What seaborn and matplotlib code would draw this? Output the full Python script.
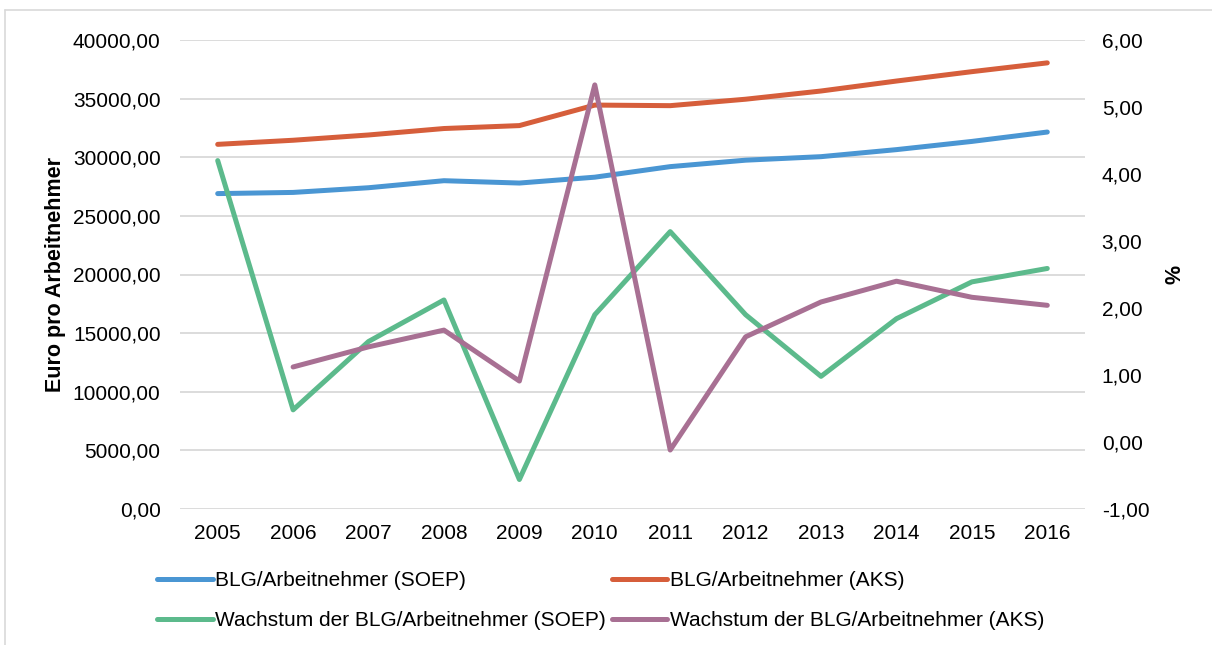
import matplotlib
matplotlib.use("Agg")
import matplotlib.pyplot as plt
from matplotlib.ticker import FuncFormatter, FixedLocator
from matplotlib.lines import Line2D
import seaborn as sns
import pandas as pd

years = [2005, 2006, 2007, 2008, 2009, 2010, 2011, 2012, 2013, 2014, 2015, 2016]
blg_soep = [26900, 27000, 27400, 28000, 27800, 28300, 29200, 29750, 30050, 30650, 31350, 32150]
blg_aks = [31100, 31450, 31900, 32450, 32700, 34450, 34400, 34950, 35650, 36500, 37300, 38050]
growth_soep = [4.20, 0.48, 1.50, 2.12, -0.56, 1.90, 3.14, 1.90, 0.98, 1.84, 2.39, 2.59]
growth_aks = [None, 1.12, 1.42, 1.67, 0.91, 5.33, -0.12, 1.57, 2.09, 2.40, 2.16, 2.04]

names = ["BLG/Arbeitnehmer (SOEP)", "BLG/Arbeitnehmer (AKS)",
         "Wachstum der BLG/Arbeitnehmer (SOEP)", "Wachstum der BLG/Arbeitnehmer (AKS)"]
colors = ["#4A96D3", "#D65E3B", "#5CBA8C", "#A87093"]

sns.set_theme(style="white")
plt.rcParams['font.family'] = ['Liberation Sans', 'DejaVu Sans']
plt.rcParams['text.color'] = '#000000'

FS = 15

fig = plt.figure(figsize=(12.12, 6.45), dpi=100)
ax = fig.add_axes([180/1212, 1 - 509/645, 905/1212, 469/645])
ax2 = ax.twinx()

df_left = pd.DataFrame({
    "Jahr": years * 2,
    "Wert": blg_soep + blg_aks,
    "Reihe": [names[0]] * 12 + [names[1]] * 12,
})
df_right = pd.DataFrame({
    "Jahr": years * 2,
    "Wert": growth_soep + growth_aks,
    "Reihe": [names[2]] * 12 + [names[3]] * 12,
}).dropna()

sns.lineplot(data=df_left, x="Jahr", y="Wert", hue="Reihe", palette=colors[:2],
             linewidth=3.6, ax=ax, legend=False, solid_capstyle="round",
             solid_joinstyle="round")
sns.lineplot(data=df_right, x="Jahr", y="Wert", hue="Reihe", palette=colors[2:],
             linewidth=3.6, ax=ax2, legend=False, solid_capstyle="round",
             solid_joinstyle="round")

ax.set_xlim(2004.5, 2016.5)
ax.set_ylim(0, 40000)
ax2.set_ylim(-1, 6)
ax.yaxis.set_major_locator(FixedLocator(list(range(0, 40001, 5000))))
ax2.yaxis.set_major_locator(FixedLocator(list(range(-1, 7))))
ax.set_xticks(years)
ax.set_xticklabels([str(y) for y in years])

fmt = FuncFormatter(lambda v, p: f"{v:.2f}".replace(".", ","))
ax.yaxis.set_major_formatter(fmt)
ax2.yaxis.set_major_formatter(fmt)

ax.grid(axis="y", color="#d9d9d9", linewidth=1.3)
ax.grid(axis="x", visible=False)
ax2.grid(False)
for a in (ax, ax2):
    for s in a.spines.values():
        s.set_visible(False)

ax.tick_params(axis="y", length=0, pad=14, labelsize=FS, labelcolor="#000000")
ax.tick_params(axis="x", length=0, pad=11, labelsize=FS, labelcolor="#000000")
ax2.tick_params(axis="y", length=0, pad=12, labelsize=FS, labelcolor="#000000")

ax.set_xlabel("")
ax.set_ylabel("Euro pro Arbeitnehmer", fontsize=15.5, fontweight="bold", color="#000000")
ax.yaxis.set_label_coords(-0.126, 0.5)
ax2.set_ylabel("%", fontsize=15.5, fontweight="bold", rotation=270, color="#000000")
ax2.yaxis.set_label_coords(1.104, 0.5)

handles = [Line2D([], [], color=c, linewidth=3.6, solid_capstyle="round") for c in colors]
order = [0, 2, 1, 3]
fig.legend([handles[i] for i in order], [names[i] for i in order], ncol=2, loc="upper left",
           bbox_to_anchor=(147/1212, 1 - 561/645), frameon=False,
           fontsize=FS, handlelength=2.65, handletextpad=0.12,
           columnspacing=0.3, labelspacing=1.0, borderpad=0, labelcolor="#000000")

# chart frame (partially visible)
fig.add_artist(Line2D([5/1212, 1.0], [1 - 10/645, 1 - 10/645], color="#d9d9d9", linewidth=1.2,
                      transform=fig.transFigure))
fig.add_artist(Line2D([5/1212, 5/1212], [0.0, 1 - 10/645], color="#d9d9d9", linewidth=1.2,
                      transform=fig.transFigure))

fig.savefig("out.png", dpi=100)
